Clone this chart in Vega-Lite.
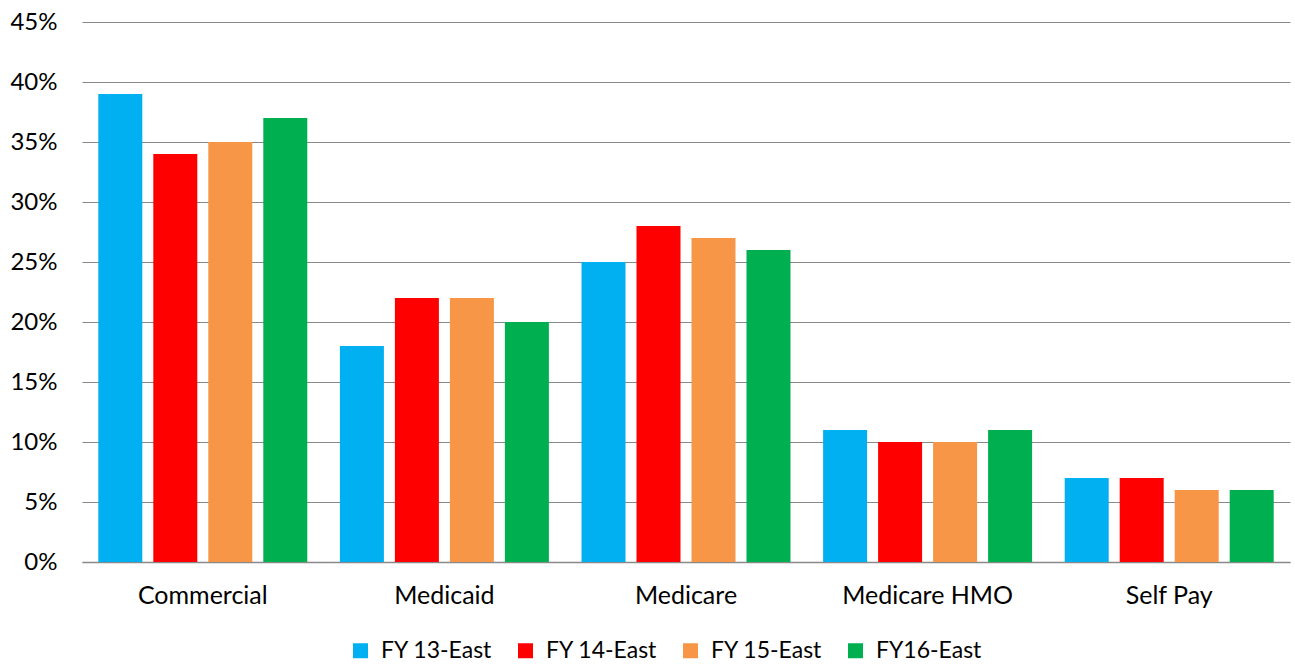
{
  "$schema": "https://vega.github.io/schema/vega-lite/v6.json",
  "width": 1208,
  "height": 540,
  "autosize": {"type": "none"},
  "padding": {"left": 82, "top": 22, "right": 5, "bottom": 106},
  "background": "white",
  "data": {
    "values": [
      {"category": "Commercial", "series": "FY 13-East", "value": 0.39},
      {"category": "Commercial", "series": "FY 14-East", "value": 0.34},
      {"category": "Commercial", "series": "FY 15-East", "value": 0.35},
      {"category": "Commercial", "series": "FY16-East", "value": 0.37},
      {"category": "Medicaid", "series": "FY 13-East", "value": 0.18},
      {"category": "Medicaid", "series": "FY 14-East", "value": 0.22},
      {"category": "Medicaid", "series": "FY 15-East", "value": 0.22},
      {"category": "Medicaid", "series": "FY16-East", "value": 0.20},
      {"category": "Medicare", "series": "FY 13-East", "value": 0.25},
      {"category": "Medicare", "series": "FY 14-East", "value": 0.28},
      {"category": "Medicare", "series": "FY 15-East", "value": 0.27},
      {"category": "Medicare", "series": "FY16-East", "value": 0.26},
      {"category": "Medicare HMO", "series": "FY 13-East", "value": 0.11},
      {"category": "Medicare HMO", "series": "FY 14-East", "value": 0.10},
      {"category": "Medicare HMO", "series": "FY 15-East", "value": 0.10},
      {"category": "Medicare HMO", "series": "FY16-East", "value": 0.11},
      {"category": "Self Pay", "series": "FY 13-East", "value": 0.07},
      {"category": "Self Pay", "series": "FY 14-East", "value": 0.07},
      {"category": "Self Pay", "series": "FY 15-East", "value": 0.06},
      {"category": "Self Pay", "series": "FY16-East", "value": 0.06}
    ]
  },
  "mark": {"type": "bar"},
  "encoding": {
    "x": {
      "field": "category",
      "type": "nominal",
      "sort": null,
      "scale": {"paddingInner": 0.135, "paddingOuter": 0.0675},
      "axis": {
        "title": null,
        "labelAngle": 0,
        "labelFont": "Lato",
        "labelFontSize": 25,
        "labelColor": "#000000",
        "labelPadding": 21,
        "ticks": false,
        "domainColor": "#898989",
        "domainWidth": 1.5,
        "grid": false
      }
    },
    "xOffset": {
      "field": "series",
      "type": "nominal",
      "sort": null,
      "scale": {"paddingInner": 0.2, "paddingOuter": 0}
    },
    "y": {
      "field": "value",
      "type": "quantitative",
      "scale": {"domain": [0, 0.45], "nice": false},
      "axis": {
        "title": null,
        "format": ".0%",
        "values": [0, 0.05, 0.1, 0.15, 0.2, 0.25, 0.3, 0.35, 0.4, 0.45],
        "labelFont": "Lato",
        "labelFontSize": 24,
        "labelColor": "#000000",
        "labelPadding": 25,
        "ticks": false,
        "domain": false,
        "grid": true,
        "gridColor": "#898989",
        "gridWidth": 1.2
      }
    },
    "color": {
      "field": "series",
      "type": "nominal",
      "sort": null,
      "scale": {
        "domain": ["FY 13-East", "FY 14-East", "FY 15-East", "FY16-East"],
        "range": ["#00B0F0", "#FF0000", "#F79646", "#00B050"]
      },
      "legend": {
        "title": null,
        "orient": "none",
        "direction": "horizontal",
        "legendX": 267,
        "legendY": 617,
        "symbolType": "square",
        "symbolSize": 225,
        "symbolStrokeWidth": 0,
        "labelFont": "Lato",
        "labelFontSize": 23,
        "labelColor": "#000000",
        "labelOffset": 9,
        "columnPadding": 21
      }
    }
  },
  "config": {"view": {"stroke": null}}
}
